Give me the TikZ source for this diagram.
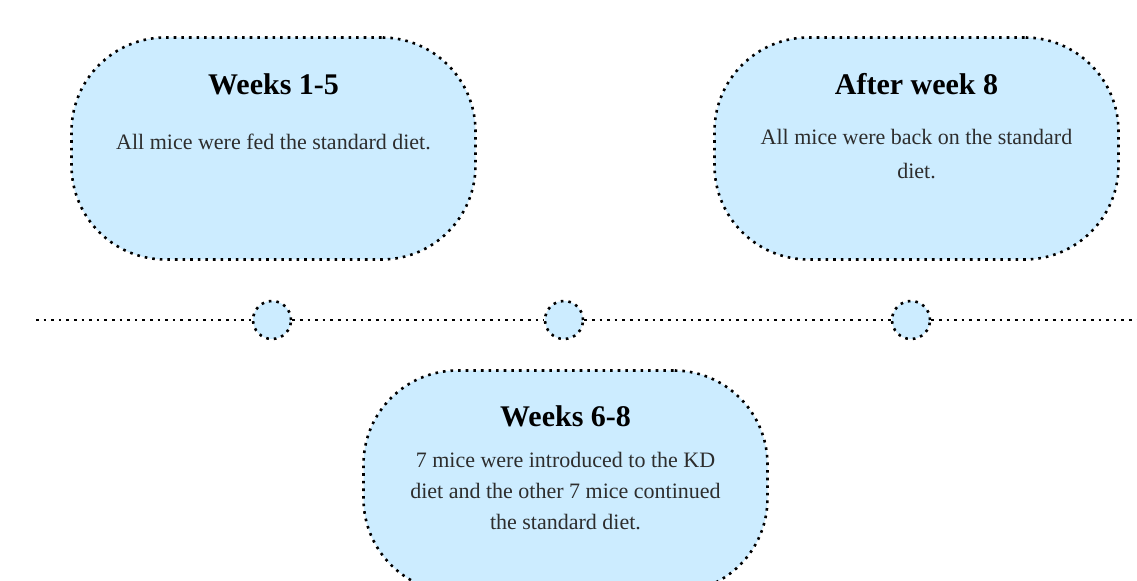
\documentclass[tikz,border=0pt]{standalone}
\usepackage{fontspec}
\setmainfont{Liberation Serif}
\usetikzlibrary{positioning}
\definecolor{paleblue}{RGB}{204,236,255}
\definecolor{notegray}{RGB}{45,45,45}

\begin{document}
\begin{tikzpicture}
  [x=0.5pt,y=-0.5pt,
   dots/.style={line width=1.3pt,dash pattern=on 1.3pt off 2.5pt},
   period/.style={draw,dots,fill=paleblue,rounded corners=47pt,
     minimum width=202pt,minimum height=111pt},
   milestone/.style={circle,draw,dots,fill=paleblue,minimum size=19pt,inner sep=0pt},
   heading/.style={font=\fontsize{15}{18}\selectfont\bfseries},
   note/.style={font=\fontsize{11}{15.5}\selectfont,text=notegray,align=center}]

  \clip (0,0) rectangle (1137,581);

  % periods
  \node[period] (w15) at (273.5,148.5) {};
  \node[period] (w68) at (565.5,481.5) {};
  \node[period] (w8)  at (916.5,148.5) {};

  \node[heading] (h15) at ([yshift=-24pt]w15.north) {Weeks 1-5};
  \node[heading] (h68) at ([yshift=-23.5pt]w68.north) {Weeks 6-8};
  \node[heading] (h8)  at ([yshift=-24pt]w8.north) {After week 8};

  \node[note] (n15) at ([yshift=-53pt]w15.north) {All mice were fed the standard diet.};
  \node[note] (n68) at ([yshift=-61pt]w68.north)
    {7 mice were introduced to the KD\\diet and the other 7 mice continued\\the standard diet.};
  \node[note] (n8)  at ([yshift=-59pt]w8.north)
    {All mice were back on the standard\\[1.5pt]diet.};

  % timeline
  \coordinate (t0) at (36,320);
  \coordinate (t1) at (1137,320);
  \node[milestone] (m1) at (272,320) {};
  \node[milestone] (m2) at (564,320) {};
  \node[milestone] (m3) at (911,320) {};

  \foreach \from/\to in {t0/m1,m1/m2,m2/m3,m3/t1}
    \draw[dots] (\from) -- (\to);
\end{tikzpicture}
\end{document}
